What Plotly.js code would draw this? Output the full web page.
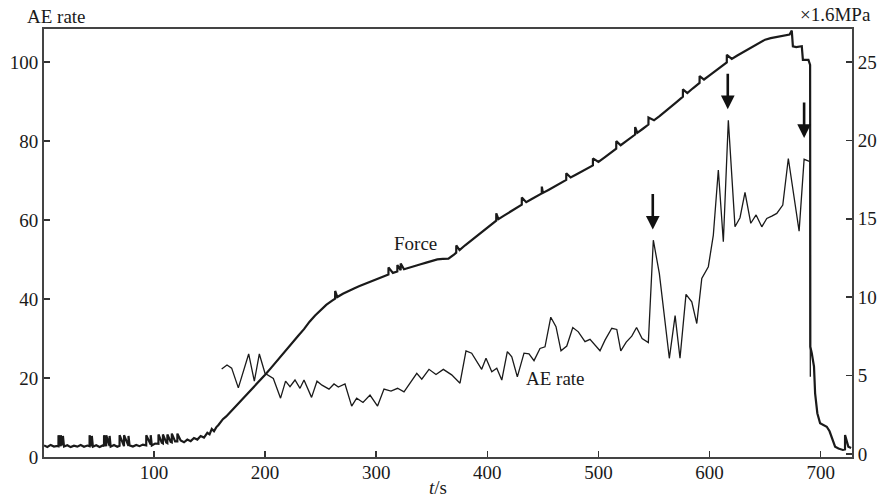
<!DOCTYPE html>
<html>
<head>
<meta charset="utf-8">
<script src="https://cdn.plot.ly/plotly-3.0.1.min.js"></script>
<style>html,body{margin:0;padding:0;background:#fff;}#chart{width:877px;height:499px;}</style>
</head>
<body>
<div id="chart"></div>
<script>
// AE rate (left axis)
const aeT = [160.9,165.7,169.9,175.9,185.2,190.3,194.8,199.9,207.4,213.9,218.4,222.4,226.9,231.4,235.0,241.8,246.7,251.2,257.5,262.0,265.9,271.9,277.9,282.4,288.1,294.4,301.2,307.0,313.3,319.2,325.0,332.0,336.5,341.0,347.5,353.8,360.4,367.9,375.4,380.8,385.9,394.9,398.8,404.0,408.5,413.0,418.0,422.0,427.0,433.0,437.5,442.0,447.4,451.9,457.1,461.8,466.3,471.5,476.9,481.9,487.9,492.4,496.9,501.4,505.9,512.0,516.5,520.1,525.0,530.0,534.3,539.3,544.9,549.4,554.8,563.8,569.0,573.4,578.8,584.0,588.5,593.0,598.9,603.4,607.9,612.4,616.9,622.9,627.4,631.9,637.1,641.9,647.0,651.5,656.0,660.5,665.9,670.9,680.6,685.1,690.5,690.7];
const aeV = [22.3,23.3,22.5,17.5,26.1,19.2,26.1,21.2,19.9,14.9,19.2,17.8,19.5,17.4,19.5,15.1,19.2,18.2,17.2,18.5,17.7,18.5,12.9,14.9,13.8,15.7,12.9,17.2,16.7,17.4,16.5,19.5,21.2,19.7,22.2,20.9,22.2,20.8,18.7,26.9,26.3,22.2,25.0,21.6,22.5,19.5,26.7,25.4,20.3,26.3,26.1,24.4,27.5,27.9,35.4,33.0,26.9,28.1,32.8,31.7,29.2,29.8,28.4,26.9,29.6,32.6,32.3,26.9,29.1,30.6,32.8,30.0,29.0,54.9,46.5,25.0,35.8,25.0,41.2,39.3,33.8,45.2,48.2,56.2,72.7,54.5,85.3,58.3,60.6,67.0,59.2,61.3,58.3,60.4,61.0,61.7,63.8,75.6,57.2,75.4,74.8,20.3];

// Force (right axis, x1.6 MPa)
const forceT = [1,4,7,10,13,14,14.05,16,16.05,18,18.05,19,22,25,28,31,34,37,40,42,42.05,44,44.05,45,48,51,54,55,55.05,57,57.05,60,60.05,61,64,67,69,69.05,73,73.05,77,77.05,78,81,84,87,90,93,93.05,96,97,97.05,98,101,104,104.05,107,108,108.05,111,112,112.05,115,116,116.05,119,121,121.05,124,127,130,133,136,139,142,145,148,150,152,154,156,158,160,162,
165,170,175,180,185,190,195,200,205,210,215,220,225,230,235,240,245,250,255,260,263,263.05,265,270,275,280,285,290,295,300,305,310,311,311.05,315,319,319.05,322,322.05,325,330,335,340,345,350,355,360,365,370,372,372.05,375,380,385,390,395,400,405,408,408.05,410,415,420,425,430,431,431.05,435,440,445,449,449.05,450,455,460,465,470,471,471.05,475,480,485,490,495,495.05,500,505,510,515,516,516.05,520,525,530,533,533.05,535,540,545,545.05,550,555,560,565,570,575,576,576.05,580,585,590,591,591.05,595,600,605,610,615,615.5,615.55,620,625,630,635,640,645,650,655,660,665,670,672,674,675,678,683,684,689,690.5,690.7,692,694,695,697,699.5,702,705.5,708,710,713,716,720,721.9,721.95,724.9,727.4];
const forceV = [0.55,0.45,0.58,0.48,0.52,0.5,1.2,0.5,1.2,0.55,1.15,0.48,0.56,0.44,0.53,0.47,0.57,0.46,0.54,0.5,1.2,0.5,1.15,0.47,0.56,0.45,0.55,0.5,1.2,0.5,1.2,0.52,1.15,0.47,0.58,0.46,0.52,1.2,0.5,1.2,0.52,1.15,0.55,0.48,0.58,0.5,0.6,0.55,1.2,0.66,0.6,1.2,0.55,0.67,0.65,1.25,0.72,0.68,1.25,0.74,0.7,1.25,0.78,0.75,1.3,0.8,0.8,1.3,0.86,0.75,0.92,0.82,1.02,0.92,1.15,1.05,1.35,1.25,1.6,1.45,1.7,1.85,2.05,2.22,
2.40,2.77,3.14,3.53,3.91,4.29,4.67,5.05,5.46,5.89,6.32,6.75,7.16,7.56,7.96,8.44,8.83,9.20,9.51,9.76,9.9,10.4,10.01,10.22,10.41,10.56,10.71,10.85,11.0,11.14,11.29,11.43,11.45,11.9,11.55,11.64,12.05,11.72,12.15,11.78,11.90,12.0,12.1,12.2,12.31,12.41,12.44,12.46,12.72,12.84,13.3,13.0,13.31,13.6,13.87,14.15,14.43,14.72,14.88,15.35,14.98,15.2,15.42,15.63,15.85,15.9,16.35,16.06,16.26,16.45,16.62,17.05,16.65,16.84,17.04,17.23,17.43,17.48,17.9,17.63,17.82,18.02,18.21,18.4,18.85,18.62,18.88,19.15,19.42,19.47,19.95,19.69,19.95,20.21,20.37,20.85,20.48,20.74,21.01,21.45,21.28,21.55,21.82,22.12,22.42,22.72,22.78,23.25,23.02,23.32,23.61,23.66,24.1,23.88,24.15,24.41,24.68,24.95,24.97,25.45,25.19,25.41,25.62,25.83,26.04,26.25,26.42,26.52,26.6,26.67,26.72,26.75,27.0,26.0,25.95,26.0,25.13,25.13,24.81,6.84,6.42,5.57,3.87,2.6,1.96,1.85,1.74,1.45,1.10,0.47,0.35,0.26,0.3,1.21,0.47,0.38];

const xTicks = [100,200,300,400,500,600,700];
const yLeftTicks = [0,20,40,60,80,100];
const yRightTicks = [0,5,10,15,20,25];

const FONT = 'Liberation Serif, Times New Roman, serif';
const INK = '#1a1a1a';

const traces = [
  {x: forceT, y: forceV, type:'scatter', mode:'lines', yaxis:'y2',
   line:{color:INK, width:2.2}, hoverinfo:'skip'},
  {x: aeT, y: aeV, type:'scatter', mode:'lines', yaxis:'y',
   line:{color:INK, width:1.3}, hoverinfo:'skip'}
];

const axisCommon = {
  ticks:'inside', ticklen:6, tickwidth:1.5, tickcolor:'#333',
  showline:true, linecolor:'#444', linewidth:2,
  showgrid:false, zeroline:false,
  tickfont:{family:FONT, size:19, color:INK}
};

function arrow(x, y){
  return {x:x, y:y, xref:'x', yref:'y', text:'', showarrow:true,
          ax:0, ay:-37, arrowhead:2, arrowsize:1.05, arrowwidth:2.6, arrowcolor:'#111', standoff:0};
}

const layout = {
  width:877, height:499,
  margin:{l:44, r:25, t:29, b:42, pad:0},
  paper_bgcolor:'#fff', plot_bgcolor:'#fff',
  showlegend:false,
  font:{family:FONT, size:19, color:INK},
  xaxis: Object.assign({}, axisCommon, {range:[1,728.2], tickvals:xTicks, mirror:true, ticklabelstandoff:-3}),
  yaxis: Object.assign({}, axisCommon, {range:[0,108.4], tickvals:yLeftTicks}),
  yaxis2: Object.assign({}, axisCommon, {range:[-0.19,27.1], tickvals:yRightTicks, overlaying:'y', side:'right'}),
  annotations:[
    {text:'AE rate', xref:'paper', yref:'paper', x:-0.023, y:1.029, xanchor:'left', yanchor:'middle', showarrow:false, font:{family:FONT, size:19, color:INK}},
    {text:'×1.6MPa', xref:'paper', yref:'paper', x:1.026, y:1.033, xanchor:'right', yanchor:'middle', showarrow:false, font:{family:FONT, size:19, color:INK}},
    {text:'<i>t</i>/s', xref:'paper', yref:'paper', x:0.488, y:-0.072, xanchor:'center', yanchor:'middle', showarrow:false, font:{family:FONT, size:19, color:INK}},
    {text:'Force', xref:'x', yref:'y', x:334.9, y:54.2, showarrow:false, font:{family:FONT, size:19, color:INK}},
    {text:'AE rate', xref:'x', yref:'y', x:460.9, y:20.0, showarrow:false, font:{family:FONT, size:19, color:INK}},
    arrow(548.9, 57.6),
    arrow(616.4, 88.1),
    arrow(685.1, 80.8)
  ]
};

Plotly.newPlot('chart', traces, layout, {staticPlot:true, displayModeBar:false});
</script>
</body>
</html>
